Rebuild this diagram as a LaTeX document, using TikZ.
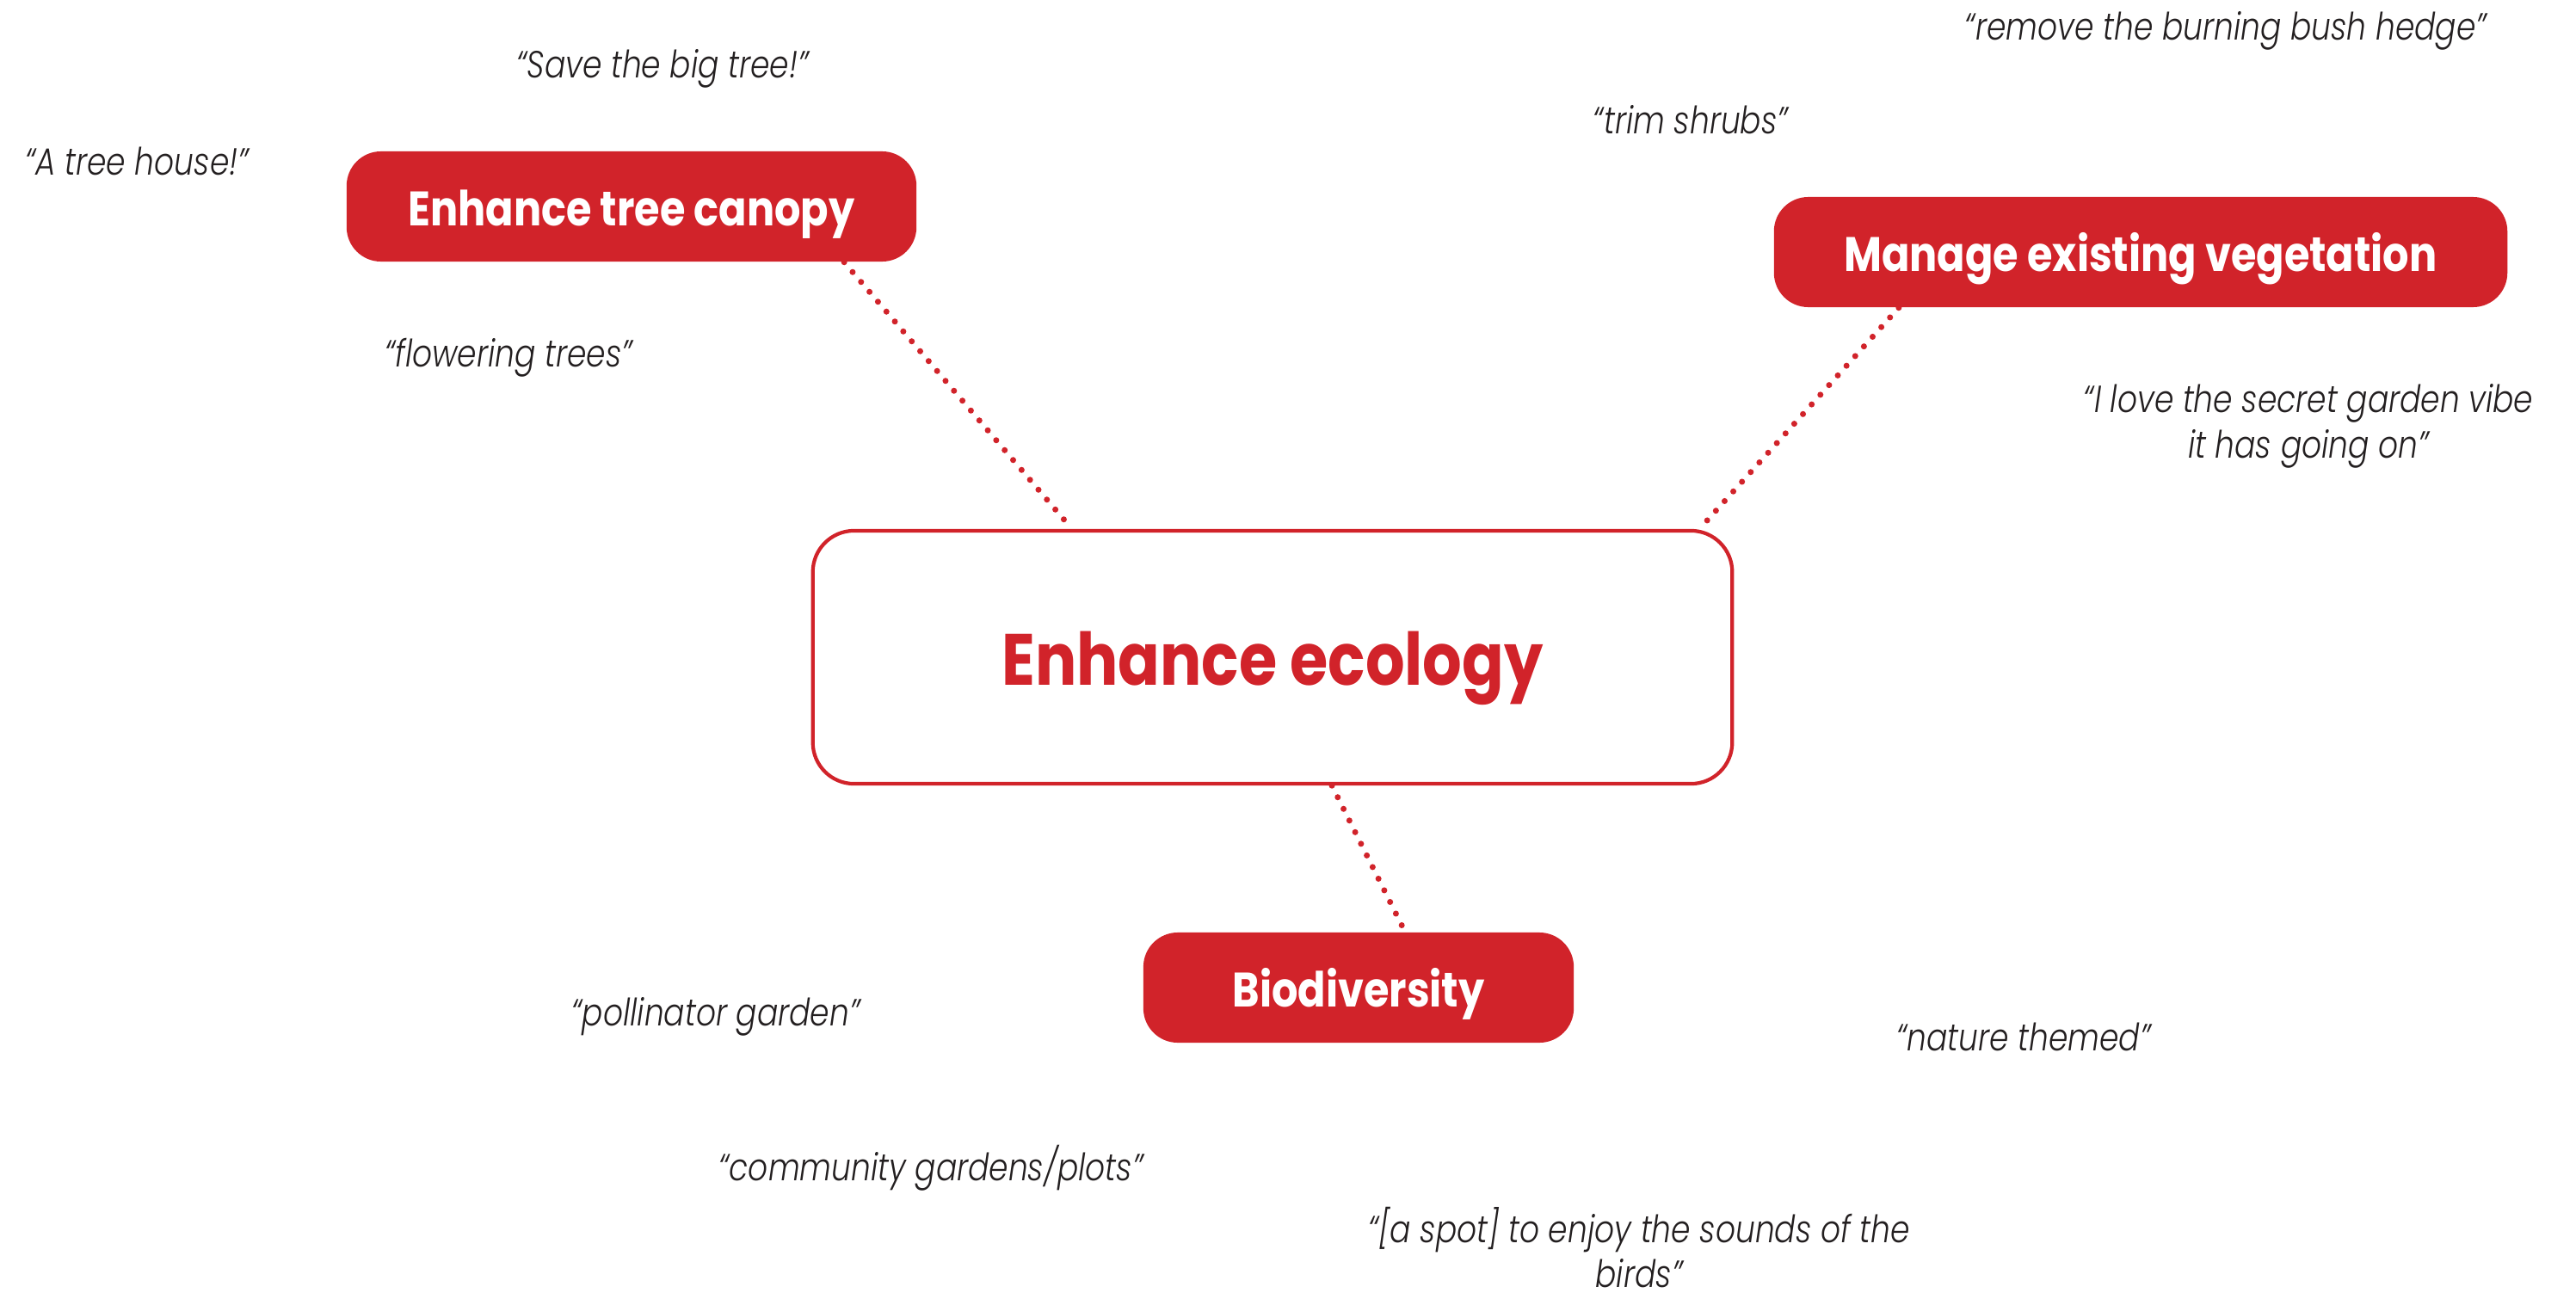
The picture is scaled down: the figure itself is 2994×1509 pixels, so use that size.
\documentclass[tikz,border=0pt]{standalone}
\usepackage{fontspec}
\setmainfont{Poppins}
\newfontfamily\quotefont{Poppins Light}[FakeStretch=0.82]
\newfontfamily\labelfont{Poppins}[FakeStretch=0.85]
\definecolor{ecored}{RGB}{209,35,42}
\definecolor{quotegray}{RGB}{35,31,32}

\begin{document}
\begin{tikzpicture}[x=0.01cm, y=-0.01cm,
            goal/.style={fill=ecored, text=white, rounded corners=0.4cm, minimum height=1.28cm, text height=0.55cm, text depth=0.1cm, font=\labelfont\bfseries\fontsize{16}{18}\selectfont},
            main/.style={draw=ecored, line width=1.2pt, text=ecored, rounded corners=0.48cm, minimum width=10.68cm, minimum height=2.94cm, text height=0.8cm, text depth=0.16cm, font=\labelfont\bfseries\fontsize{24}{28}\selectfont},
            quote/.style={text=quotegray, align=center, font=\quotefont\itshape\fontsize{12.5}{15}\selectfont},
            link/.style={draw=ecored, line width=2pt, line cap=round, dash pattern=on 0pt off 4.3pt}
        ]
        \useasboundingbox (0,0) rectangle (2994,1509);
        % central goal
        \node[main] (eco) at (1479,764) {Enhance ecology};
        % sub goals
        \node[goal, minimum width=6.62cm] (canopy) at (734,240) {Enhance tree canopy};
        \node[goal, minimum width=8.52cm] (manage) at (2488,293) {Manage existing vegetation};
        \node[goal, minimum width=5.0cm] (bio) at (1579,1148) {Biodiversity};
        % dotted links
        \draw[link] ([xshift=2.47cm]canopy.south) -- ([xshift=-2.33cm]eco.north);
        \draw[link] ([xshift=-2.81cm]manage.south) -- ([xshift=4.96cm]eco.north);
        \draw[link] ([xshift=0.69cm]eco.south) -- ([xshift=0.54cm]bio.north);
        % quotes
        \node[quote] (q1) at (770,80) {“Save the big tree!”};
        \node[quote] (q2) at (159,187) {“A tree house!”};
        \node[quote] (q3) at (591,416) {“flowering trees”};
        \node[quote] (q4) at (2587,36) {“remove the burning bush hedge”};
        \node[quote] (q5) at (1965,139) {“trim shrubs”};
        \node[quote] (q6) at (2683,495) {“I love the secret garden vibe\\ it has going on”};
        \node[quote] (q7) at (832,1182) {“pollinator garden”};
        \node[quote] (q8) at (2352,1205) {“nature themed”};
        \node[quote] (q9) at (1082,1358) {“community gardens/plots”};
        \node[quote] (q10) at (1905,1450) {“[a spot] to enjoy the sounds of the\\ birds”};
\end{tikzpicture}
\end{document}
